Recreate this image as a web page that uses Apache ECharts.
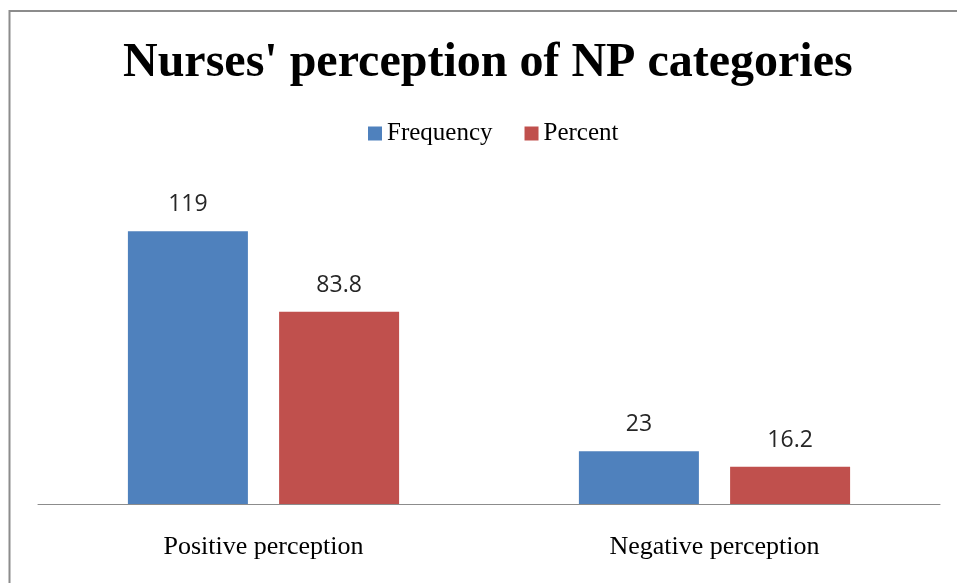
<!DOCTYPE html>
<html>
<head>
<meta charset="utf-8">
<script src="https://cdn.jsdelivr.net/npm/echarts@6/dist/echarts.min.js"></script>
<style>
html, body { margin: 0; padding: 0; background: #fff; }
#main { width: 957px; height: 583px; }
</style>
</head>
<body>
<div id="main"></div>
<script>
var categories = ['Positive perception', 'Negative perception'];
var frequency = [119, 23];
var percent = [83.8, 16.2];

var chart = echarts.init(document.getElementById('main'));
var option = {
    backgroundColor: '#fff',
    animation: false,
    title: {
        text: "Nurses' perception of NP categories",
        left: 118,
        top: 35,
        textStyle: {
            fontFamily: 'Liberation Serif',
            fontWeight: 'bold',
            fontSize: 48,
            color: '#000'
        }
    },
    legend: {
        data: ['Frequency', 'Percent'],
        top: 116,
        left: 363,
        itemWidth: 14,
        itemHeight: 14,
        itemGap: 32,
        icon: 'rect',
        textStyle: {
            fontFamily: 'Liberation Serif',
            fontSize: 25,
            color: '#000'
        }
    },
    graphic: [{
        type: 'rect',
        shape: { x: 9.5, y: 11, width: 960, height: 600 },
        style: { fill: 'none', stroke: '#8c8c8c', lineWidth: 2 },
        silent: true
    }],
    grid: { left: 38, right: 17, top: 183, bottom: 79 },
    xAxis: {
        type: 'category',
        data: categories,
        axisTick: { show: false },
        axisLine: { lineStyle: { color: '#8c8c8c', width: 1 } },
        axisLabel: {
            margin: 30,
            fontFamily: 'Liberation Serif',
            fontSize: 26,
            color: '#000'
        }
    },
    yAxis: {
        type: 'value',
        min: 0,
        max: 140,
        show: false,
        splitLine: { show: false }
    },
    color: ['#4F81BD', '#C0504D'],
    series: [{
        name: 'Frequency',
        type: 'bar',
        data: frequency,
        barWidth: 120,
        barGap: '26%',
        label: {
            show: true,
            position: 'top',
            distance: 15,
            fontFamily: 'Open Sans',
            fontSize: 23,
            color: '#262626'
        }
    }, {
        name: 'Percent',
        type: 'bar',
        data: percent,
        barWidth: 120,
        barGap: '26%',
        label: {
            show: true,
            position: 'top',
            distance: 15,
            fontFamily: 'Open Sans',
            fontSize: 23,
            color: '#262626'
        }
    }]
};
chart.setOption(option);
</script>
</body>
</html>
